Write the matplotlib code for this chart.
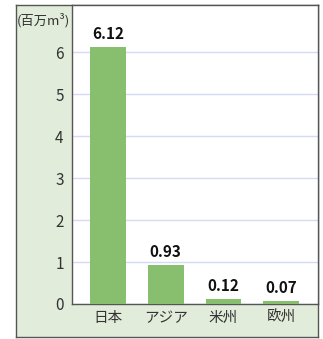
import matplotlib
matplotlib.use("Agg")
import matplotlib.pyplot as plt

categories = ["日本", "アジア", "米州", "欧州"]
values = [6.12, 0.93, 0.12, 0.07]
value_labels = ["6.12", "0.93", "0.12", "0.07"]
yticks = [0, 1, 2, 3, 4, 5, 6]
unit_label = "(百万m³)"

plt.rcParams['font.family'] = ['Noto Sans CJK JP', 'DejaVu Sans']

W, H = 323, 339
fig = plt.figure(figsize=(W / 100, H / 100), dpi=100)
fig.patch.set_facecolor("white")

def fx(px): return px / W
def fy(py): return 1 - py / H

# outer frame as background axes
bg = fig.add_axes([fx(16), fy(337), fx(318) - fx(16), fy(5) - fy(337)], zorder=0)
bg.set_facecolor("#e2ecda")
bg.set_xticks([]); bg.set_yticks([])
for s in bg.spines.values():
    s.set_color("#555555"); s.set_linewidth(1.0)

left, right, top, bottom = 72, 318, 5, 304
ax = fig.add_axes([fx(left), fy(bottom), fx(right) - fx(left), fy(top) - fy(bottom)], zorder=1)
ax.set_facecolor("white")

x = list(range(len(categories)))
ax.bar(x, values, width=0.62, color="#88bf6f", zorder=3)
for xi, v, lab in zip(x, values, value_labels):
    ax.text(xi, v + 0.12, lab, ha="center", va="bottom", fontsize=11,
            fontweight="bold", color="#111111", zorder=4)

ax.set_xlim(-0.624, 3.64)
ax.set_ylim(0, 7.12)
ax.set_yticks(yticks)
ax.set_yticklabels([str(t) for t in yticks])
ax.set_xticks(x)
ax.set_xticklabels(categories)
ax.tick_params(axis="y", length=0, pad=6, labelsize=11, labelcolor="#333333")
ax.tick_params(axis="x", length=0, pad=5, labelsize=10.5, labelcolor="#333333")
ax.grid(axis="y", color="#d6daf2", linewidth=1.0, zorder=1)
ax.set_axisbelow(True)

for s in ax.spines.values():
    s.set_color("#555555")
    s.set_linewidth(1.0)

fig.text(fx(17), fy(20), unit_label, ha="left", va="center", fontsize=9.5,
         color="#333333", zorder=5)

fig.savefig("out.png", dpi=100, facecolor="white")
